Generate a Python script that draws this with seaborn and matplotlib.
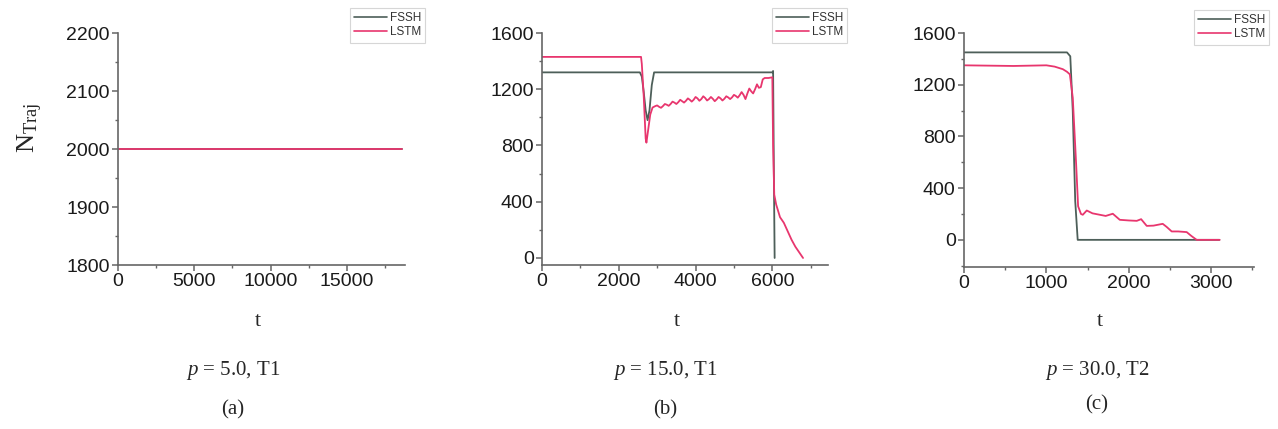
import numpy as np
import pandas as pd
import matplotlib
matplotlib.use("Agg")
import matplotlib.pyplot as plt
import seaborn as sns
from matplotlib.ticker import MultipleLocator
from matplotlib.lines import Line2D

# ---------------- data ----------------
# panel (a)
a_t = [0, 18600]
a_fssh = [2000, 2000]
a_lstm = [2000, 2000]

# panel (b)
b_fssh_t = [0, 2550, 2600, 2650, 2700, 2750, 2800, 2860, 2920, 6000, 6020, 6040, 6060]
b_fssh = [1320, 1320, 1290, 1180, 1050, 980, 1050, 1230, 1320, 1320, 1330, 600, 0]
b_lstm_t = [0, 2580, 2600, 2650, 2700, 2720, 2760, 2820, 2880, 2950,
            3000, 3050, 3100, 3150, 3200, 3250, 3300, 3350, 3400, 3450,
            3500, 3550, 3600, 3650, 3700, 3750, 3800, 3850, 3900, 3950,
            4000, 4050, 4100, 4150, 4200, 4250, 4300, 4350, 4400, 4450,
            4500, 4550, 4600, 4650, 4700, 4750, 4800, 4850, 4900, 4950,
            5000, 5050, 5100, 5150, 5200, 5250, 5300, 5350, 5400, 5450,
            5500, 5550, 5600, 5650, 5700, 5750, 5800, 5900, 6000,
            6020, 6050, 6100, 6200, 6250, 6300, 6400, 6500, 6600, 6700, 6800]
b_lstm = [1430, 1430, 1380, 1150, 850, 820, 900, 1020, 1070, 1080,
          1085, 1075, 1068, 1080, 1095, 1090, 1082, 1095, 1112, 1105,
          1095, 1108, 1125, 1115, 1105, 1118, 1135, 1125, 1112, 1125,
          1145, 1135, 1118, 1130, 1150, 1138, 1120, 1130, 1145, 1132,
          1115, 1128, 1145, 1135, 1120, 1132, 1150, 1142, 1130, 1142,
          1160, 1152, 1140, 1158, 1180, 1160, 1130, 1170, 1205, 1185,
          1170, 1200, 1235, 1210, 1215, 1270, 1280, 1280, 1285,
          800, 450, 380, 290, 270, 250, 190, 130, 80, 40, 0]

# panel (c)
c_fssh_t = [0, 1250, 1290, 1320, 1350, 1380, 1420, 3100]
c_fssh = [1450, 1450, 1420, 1000, 300, 0, 0, 0]
c_lstm_t = [0, 600, 1000, 1100, 1200, 1250, 1285, 1320, 1360, 1385, 1420,
            1442, 1490, 1560, 1648, 1720, 1806, 1891, 2000, 2097, 2150,
            2218, 2300, 2412, 2460, 2521, 2600, 2703, 2760, 2824, 2900, 3103]
c_lstm = [1350, 1345, 1350, 1340, 1320, 1300, 1280, 1100, 600, 260, 200,
          194, 227, 205, 194, 185, 202, 155, 150, 147, 160,
          108, 110, 124, 100, 65, 65, 60, 30, 0, 0, 0]

series_names = ["FSSH", "LSTM"]
panel_titles = ["$p$ = 5.0, T1", "$p$ = 15.0, T1", "$p$ = 30.0, T2"]
panel_tags = ["(a)", "(b)", "(c)"]

# ---------------- style ----------------
sns.set_theme(style="white")
plt.rcParams["font.family"] = ["Liberation Sans", "DejaVu Sans"]
plt.rcParams["mathtext.fontset"] = "custom"
plt.rcParams["mathtext.it"] = "Liberation Serif:italic"
plt.rcParams["mathtext.rm"] = "Liberation Serif"

FSSH_C = "#4d5f59"
LSTM_C = "#e8366e"
SPINE_C = "#666666"

W, H = 1278, 429
fig = plt.figure(figsize=(W / 100, H / 100), dpi=100)

def box(l, r, t, b):
    return [l / W, (H - b) / H, (r - l) / W, (b - t) / H]

axes = [fig.add_axes(box(118, 405, 33, 265)),
        fig.add_axes(box(542, 828, 33, 265)),
        fig.add_axes(box(964, 1254, 33, 267))]

data = [
    (a_t, a_fssh, a_t, a_lstm),
    (b_fssh_t, b_fssh, b_lstm_t, b_lstm),
    (c_fssh_t, c_fssh, c_lstm_t, c_lstm),
]
xlims = [(0, 18800), (0, 7450), (0, 3520)]
ylims = [(1800, 2200), (-50, 1600), (-210, 1600)]
xticks = [[0, 5000, 10000, 15000], [0, 2000, 4000, 6000], [0, 1000, 2000, 3000]]
yticks = [[1800, 1900, 2000, 2100, 2200], [0, 400, 800, 1200, 1600],
          [0, 400, 800, 1200, 1600]]
xmin = [2500, 1000, 500]
ymin = [50, 200, 200]

for i, ax in enumerate(axes):
    ft, fv, lt, lv = data[i]
    df_f = pd.DataFrame({"t": ft, "N": fv})
    df_l = pd.DataFrame({"t": lt, "N": lv})
    sns.lineplot(data=df_f, x="t", y="N", ax=ax, color=FSSH_C, lw=1.3,
                 estimator=None, sort=False)
    sns.lineplot(data=df_l, x="t", y="N", ax=ax, color=LSTM_C, lw=1.3,
                 estimator=None, sort=False)
    ax.set_xlim(*xlims[i])
    ax.set_ylim(*ylims[i])
    ax.set_xticks(xticks[i])
    ax.set_yticks(yticks[i])
    ax.xaxis.set_minor_locator(MultipleLocator(xmin[i]))
    ax.yaxis.set_minor_locator(MultipleLocator(ymin[i]))
    for s in ["top", "right"]:
        ax.spines[s].set_visible(False)
    for s in ["left", "bottom"]:
        ax.spines[s].set_color(SPINE_C)
        ax.spines[s].set_linewidth(1.2)
    ax.tick_params(which="major", direction="out", length=4, width=1.1,
                   color=SPINE_C, labelsize=14, labelcolor="#1a1a1a", pad=2,
                   left=True, bottom=True)
    ax.tick_params(which="minor", direction="out", length=2.5, width=1.0,
                   color=SPINE_C, left=True, bottom=True)
    ax.set_xlabel("")
    ax.set_ylabel("")

# legends
leg_anchor = [(425, 8), (847, 8), (1269, 10)]
for i, ax in enumerate(axes):
    handles = [Line2D([], [], color=FSSH_C, lw=1.2),
               Line2D([], [], color=LSTM_C, lw=1.2)]
    x, y = leg_anchor[i]
    leg = fig.legend(handles, series_names, loc="upper right",
                     bbox_to_anchor=(x / W, 1 - y / H), fontsize=8.5,
                     frameon=True, fancybox=False, handlelength=2.8,
                     handletextpad=0.2, borderpad=0.35, labelspacing=0.2,
                     borderaxespad=0)
    leg.get_frame().set_edgecolor("#cccccc")
    leg.get_frame().set_linewidth(0.8)
    for txt in leg.get_texts():
        txt.set_color("#333333")

# y label
fig.text(30 / W, 1 - 128 / H, r"N$_{\mathrm{Traj}}$", rotation=90,
         ha="center", va="center", fontsize=19, family="Liberation Serif")

# x labels, titles, tags
t_x = [258, 677, 1100]
title_x = [233, 665, 1097]
tag_y = [410, 410, 405]
for i in range(3):
    fig.text(t_x[i] / W, 1 - 322 / H, "t", ha="center", va="center",
             fontsize=16, family="Liberation Serif")
    fig.text(title_x[i] / W, 1 - 370 / H, panel_titles[i], ha="center",
             va="center", fontsize=15, family="Liberation Serif")
    fig.text(title_x[i] / W, 1 - tag_y[i] / H, panel_tags[i], ha="center",
             va="center", fontsize=15, family="Liberation Serif")

fig.savefig("out.png", dpi=100)
